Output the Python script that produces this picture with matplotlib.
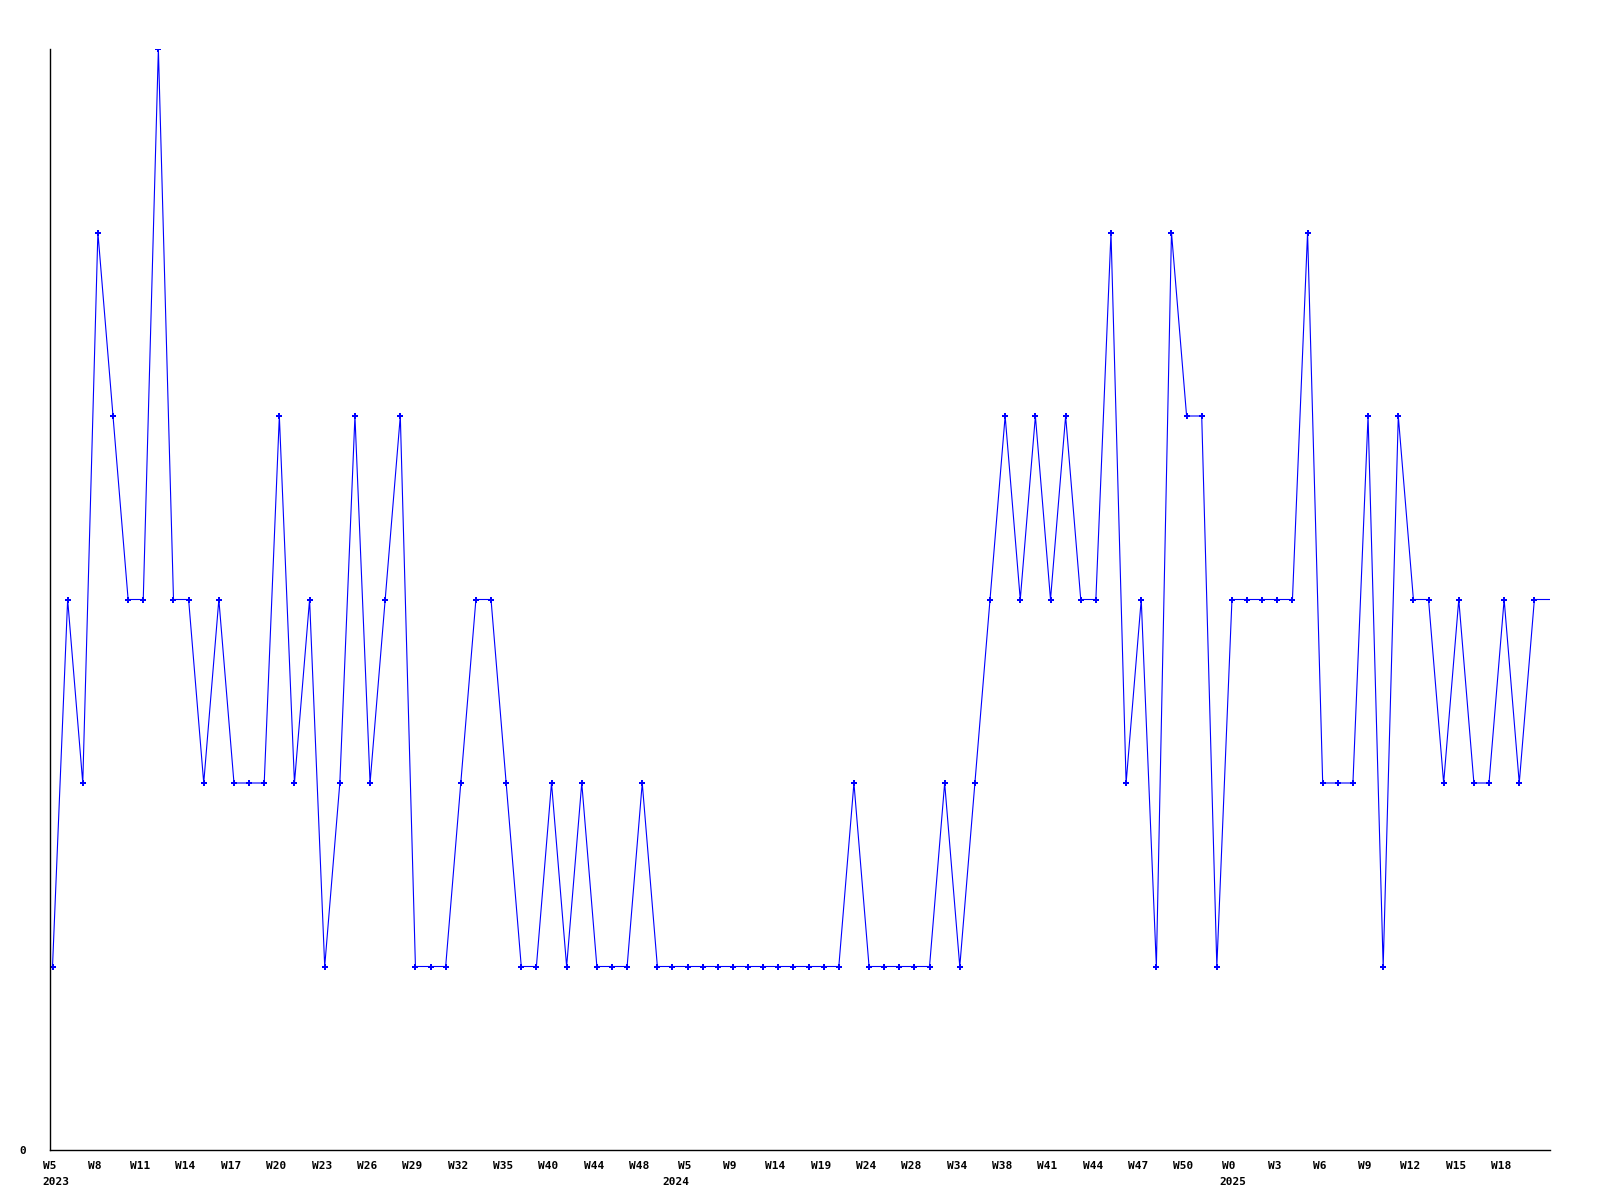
import matplotlib
matplotlib.use("Agg")
import matplotlib.pyplot as plt

# Weekly values
values = [1, 3, 2, 5, 4, 3, 3, 6, 3, 3,
          2, 3, 2, 2, 2, 4, 2, 3, 1, 2,
          4, 2, 3, 4, 1, 1, 1, 2, 3, 3,
          2, 1, 1, 2, 1, 2, 1, 1, 1, 2,
          1, 1, 1, 1, 1, 1, 1, 1, 1, 1,
          1, 1, 1, 2, 1, 1, 1, 1, 1, 2,
          1, 2, 3, 4, 3, 4, 3, 4, 3, 3,
          5, 2, 3, 1, 5, 4, 4, 1, 3, 3,
          3, 3, 3, 5, 2, 2, 2, 4, 1, 4,
          3, 3, 2, 3, 2, 2, 3, 2, 3, 3]

week_labels = ["W5", "W8", "W11", "W14", "W17", "W20", "W23", "W26", "W29", "W32",
               "W35", "W40", "W44", "W48", "W5", "W9", "W14", "W19", "W24", "W28",
               "W34", "W38", "W41", "W44", "W47", "W50", "W0", "W3", "W6", "W9",
               "W12", "W15", "W18"]
label_step = 3
year_labels = ["2023", "2024", "2025"]
year_label_ticks = [0, 14, 26]   # index into week_labels

x = list(range(len(values)))
tick_pos = [i * label_step for i in range(len(week_labels))]

fig = plt.figure(figsize=(16, 12), dpi=100)
ax = fig.add_axes([49.5 / 1600, 50 / 1200, 1500 / 1600, (1150 - 49) / 1200])

ax.plot(x, values, color="#0000ff", linewidth=0.8, marker="P", markersize=4.0,
        markeredgewidth=0, markevery=list(range(len(values) - 1)))

ax.set_xlim(0, len(values) - 1)
ax.set_ylim(0, 6)

for s in ["top", "right"]:
    ax.spines[s].set_visible(False)
for s in ["left", "bottom"]:
    ax.spines[s].set_color("black")
    ax.spines[s].set_linewidth(1.0)

font = dict(family="DejaVu Sans Mono", weight="bold", size=8)

ax.set_yticks([0])
ax.set_yticklabels(["0"], **font)
ax.tick_params(axis="y", length=0, pad=17)

ax.set_xticks([p - 0.2 for p in tick_pos])
ax.set_xticklabels(week_labels, **font)
ax.tick_params(axis="x", length=0, pad=8)

year_offsets = [-0.65, -1.65, -0.8]
for lab, ti, off in zip(year_labels, year_label_ticks, year_offsets):
    ax.annotate(lab, xy=(tick_pos[ti] + off, 0), xycoords=("data", "axes fraction"),
                xytext=(0, -19.5), textcoords="offset points",
                ha="left", va="top", **font)

fig.savefig("out.png", dpi=100)
